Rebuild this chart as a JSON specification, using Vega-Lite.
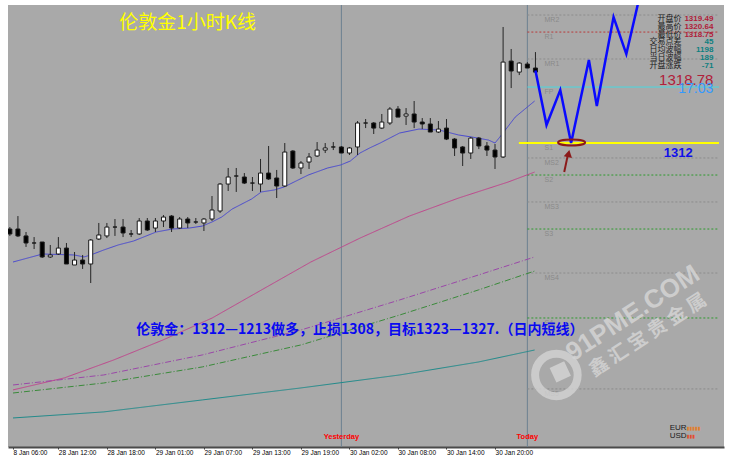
{
  "$schema": "https://vega.github.io/schema/vega-lite/v6.json",
  "width": 716,
  "height": 442,
  "autosize": {"type": "none"},
  "padding": {"left": 8, "top": 5, "right": 8, "bottom": 16},
  "background": "#FFFFFF",
  "config": {"view": {"fill": "#A9A9A9", "stroke": null}, "font": "Liberation Sans"},
  "datasets": {
    "one": [{}],
    "candles": [
      {"i":0,"o":1304.18,"h":1304.36,"l":1303.55,"c":1303.73},
      {"i":1,"o":1304.18,"h":1305.36,"l":1303.45,"c":1303.55},
      {"i":2,"o":1303.55,"h":1303.91,"l":1302.55,"c":1302.91},
      {"i":3,"o":1302.91,"h":1303.45,"l":1302.36,"c":1302.91},
      {"i":4,"o":1303.0,"h":1303.0,"l":1301.55,"c":1301.64},
      {"i":5,"o":1301.64,"h":1302.73,"l":1301.55,"c":1301.82},
      {"i":6,"o":1301.91,"h":1303.45,"l":1301.82,"c":1302.45},
      {"i":7,"o":1302.45,"h":1302.91,"l":1301.0,"c":1301.0},
      {"i":8,"o":1300.91,"h":1302.09,"l":1300.91,"c":1301.36},
      {"i":9,"o":1301.36,"h":1301.82,"l":1300.55,"c":1301.0},
      {"i":10,"o":1301.0,"h":1303.27,"l":1299.27,"c":1303.18},
      {"i":11,"o":1303.27,"h":1304.73,"l":1303.18,"c":1303.64},
      {"i":12,"o":1303.55,"h":1304.73,"l":1303.36,"c":1304.36},
      {"i":13,"o":1304.36,"h":1305.09,"l":1303.55,"c":1304.36},
      {"i":14,"o":1304.36,"h":1305.09,"l":1303.45,"c":1303.82},
      {"i":15,"o":1303.73,"h":1304.09,"l":1303.45,"c":1303.73},
      {"i":16,"o":1303.73,"h":1305.18,"l":1303.64,"c":1304.91},
      {"i":17,"o":1304.91,"h":1305.18,"l":1304.0,"c":1304.09},
      {"i":18,"o":1304.27,"h":1305.18,"l":1303.91,"c":1304.91},
      {"i":19,"o":1304.91,"h":1305.45,"l":1304.36,"c":1305.27},
      {"i":20,"o":1305.36,"h":1305.45,"l":1303.91,"c":1304.27},
      {"i":21,"o":1304.27,"h":1305.27,"l":1304.18,"c":1305.09},
      {"i":22,"o":1305.09,"h":1305.27,"l":1304.27,"c":1304.73},
      {"i":23,"o":1304.82,"h":1305.18,"l":1304.64,"c":1304.82},
      {"i":24,"o":1304.73,"h":1305.18,"l":1304.0,"c":1305.09},
      {"i":25,"o":1305.09,"h":1307.18,"l":1304.91,"c":1305.91},
      {"i":26,"o":1305.82,"h":1308.36,"l":1305.64,"c":1308.27},
      {"i":27,"o":1308.27,"h":1309.73,"l":1307.64,"c":1308.91},
      {"i":28,"o":1309.0,"h":1309.73,"l":1307.55,"c":1309.0},
      {"i":29,"o":1308.91,"h":1309.27,"l":1308.27,"c":1308.36},
      {"i":30,"o":1308.36,"h":1308.91,"l":1307.64,"c":1308.36},
      {"i":31,"o":1308.27,"h":1310.55,"l":1307.55,"c":1309.27},
      {"i":32,"o":1309.27,"h":1311.73,"l":1308.64,"c":1308.73},
      {"i":33,"o":1308.82,"h":1309.55,"l":1307.0,"c":1308.09},
      {"i":34,"o":1308.09,"h":1312.0,"l":1308.0,"c":1311.18},
      {"i":35,"o":1311.27,"h":1311.36,"l":1309.64,"c":1309.73},
      {"i":36,"o":1309.73,"h":1310.36,"l":1309.18,"c":1310.18},
      {"i":37,"o":1310.27,"h":1311.09,"l":1309.64,"c":1310.73},
      {"i":38,"o":1310.82,"h":1312.09,"l":1310.73,"c":1311.36},
      {"i":39,"o":1311.36,"h":1312.0,"l":1311.09,"c":1311.55},
      {"i":40,"o":1311.64,"h":1312.09,"l":1311.36,"c":1311.64},
      {"i":41,"o":1311.64,"h":1311.73,"l":1311.09,"c":1311.09},
      {"i":42,"o":1311.09,"h":1311.64,"l":1310.91,"c":1311.55},
      {"i":43,"o":1311.64,"h":1314.0,"l":1310.91,"c":1313.82},
      {"i":44,"o":1313.82,"h":1314.18,"l":1313.36,"c":1313.82},
      {"i":45,"o":1313.82,"h":1313.91,"l":1312.82,"c":1313.36},
      {"i":46,"o":1313.36,"h":1314.64,"l":1313.27,"c":1313.91},
      {"i":47,"o":1313.82,"h":1315.27,"l":1313.64,"c":1315.09},
      {"i":48,"o":1315.09,"h":1315.36,"l":1314.36,"c":1314.36},
      {"i":49,"o":1314.45,"h":1315.18,"l":1313.64,"c":1314.64},
      {"i":50,"o":1314.64,"h":1315.82,"l":1313.36,"c":1313.91},
      {"i":51,"o":1313.91,"h":1314.27,"l":1313.27,"c":1313.73},
      {"i":52,"o":1313.73,"h":1314.27,"l":1313.0,"c":1313.0},
      {"i":53,"o":1313.0,"h":1314.0,"l":1312.91,"c":1313.27},
      {"i":54,"o":1313.36,"h":1314.18,"l":1312.27,"c":1312.36},
      {"i":55,"o":1312.36,"h":1312.45,"l":1310.82,"c":1311.55},
      {"i":56,"o":1311.64,"h":1311.73,"l":1309.91,"c":1311.09},
      {"i":57,"o":1311.09,"h":1312.55,"l":1310.55,"c":1312.45},
      {"i":58,"o":1312.45,"h":1312.55,"l":1311.45,"c":1311.73},
      {"i":59,"o":1311.73,"h":1312.09,"l":1310.82,"c":1311.36},
      {"i":60,"o":1311.36,"h":1311.91,"l":1309.64,"c":1310.73},
      {"i":61,"o":1310.73,"h":1322.55,"l":1310.64,"c":1319.36},
      {"i":62,"o":1319.45,"h":1320.55,"l":1317.0,"c":1318.55},
      {"i":63,"o":1318.45,"h":1319.36,"l":1318.18,"c":1319.27},
      {"i":64,"o":1319.18,"h":1319.36,"l":1318.82,"c":1318.82},
      {"i":65,"o":1318.82,"h":1320.27,"l":1318.45,"c":1318.45}
    ],
    "ma": [
      {"s":"ma1","i":0.39,"v":1301.18},{"s":"ma1","i":4.05,"v":1301.91},{"s":"ma1","i":7.95,"v":1301.82},{"s":"ma1","i":9.17,"v":1301.64},{"s":"ma1","i":10.0,"v":1301.82},{"s":"ma1","i":11.6,"v":1302.27},{"s":"ma1","i":13.4,"v":1302.73},{"s":"ma1","i":15.3,"v":1303.09},{"s":"ma1","i":18.1,"v":1303.91},{"s":"ma1","i":20.1,"v":1304.18},{"s":"ma1","i":22.2,"v":1304.27},{"s":"ma1","i":23.8,"v":1304.45},{"s":"ma1","i":25.0,"v":1304.82},{"s":"ma1","i":26.2,"v":1305.27},{"s":"ma1","i":27.5,"v":1306.0},{"s":"ma1","i":29.9,"v":1306.91},{"s":"ma1","i":31.1,"v":1307.55},{"s":"ma1","i":32.7,"v":1307.73},{"s":"ma1","i":33.9,"v":1308.0},{"s":"ma1","i":36.9,"v":1309.09},{"s":"ma1","i":39.3,"v":1309.73},{"s":"ma1","i":40.9,"v":1310.0},{"s":"ma1","i":42.1,"v":1310.36},{"s":"ma1","i":43.3,"v":1311.09},{"s":"ma1","i":44.5,"v":1311.55},{"s":"ma1","i":45.8,"v":1312.0},{"s":"ma1","i":48.2,"v":1312.91},{"s":"ma1","i":50.6,"v":1313.27},{"s":"ma1","i":53.1,"v":1313.18},{"s":"ma1","i":55.5,"v":1312.73},{"s":"ma1","i":57.1,"v":1312.55},{"s":"ma1","i":59.2,"v":1312.27},{"s":"ma1","i":60.0,"v":1312.0},{"s":"ma1","i":60.8,"v":1312.73},{"s":"ma1","i":62.5,"v":1314.36},{"s":"ma1","i":64.9,"v":1315.82},
      {"s":"ma2","i":0.39,"v":1289.55},{"s":"ma2","i":6.73,"v":1290.64},{"s":"ma2","i":12.83,"v":1292.27},{"s":"ma2","i":18.93,"v":1294.09},{"s":"ma2","i":25.02,"v":1296.09},{"s":"ma2","i":31.12,"v":1298.64},{"s":"ma2","i":37.22,"v":1301.18},{"s":"ma2","i":43.32,"v":1303.36},{"s":"ma2","i":49.41,"v":1305.36},{"s":"ma2","i":55.51,"v":1307.0},{"s":"ma2","i":61.61,"v":1308.45},{"s":"ma2","i":64.9,"v":1309.36},
      {"s":"ma3","i":0.39,"v":1290.0},{"s":"ma3","i":11.61,"v":1290.91},{"s":"ma3","i":23.8,"v":1292.73},{"s":"ma3","i":36.0,"v":1295.0},{"s":"ma3","i":48.2,"v":1297.73},{"s":"ma3","i":57.95,"v":1300.0},{"s":"ma3","i":64.9,"v":1301.64},
      {"s":"ma4","i":0.39,"v":1289.27},{"s":"ma4","i":11.61,"v":1290.18},{"s":"ma4","i":23.8,"v":1291.64},{"s":"ma4","i":36.0,"v":1293.64},{"s":"ma4","i":48.2,"v":1296.36},{"s":"ma4","i":57.95,"v":1298.64},{"s":"ma4","i":64.9,"v":1300.36},
      {"s":"ma5","i":0.39,"v":1287.0},{"s":"ma5","i":11.61,"v":1287.55},{"s":"ma5","i":23.8,"v":1288.64},{"s":"ma5","i":36.0,"v":1289.73},{"s":"ma5","i":48.2,"v":1290.91},{"s":"ma5","i":57.95,"v":1292.09},{"s":"ma5","i":64.9,"v":1293.18}
    ],
    "pivots": [
      {"name":"MR2","p":1323.64,"kind":"m"},
      {"name":"R1","p":1322.09,"kind":"r"},
      {"name":"MR1","p":1319.64,"kind":"m"},
      {"name":"FP","p":1317.09,"kind":"p"},
      {"name":"S1","p":1312.0,"kind":"s"},
      {"name":"MS2","p":1310.64,"kind":"m"},
      {"name":"S2","p":1309.09,"kind":"s"},
      {"name":"MS3","p":1306.64,"kind":"m"},
      {"name":"S3","p":1304.18,"kind":"s"},
      {"name":"MS4","p":1300.18,"kind":"m"},
      {"name":"S4","p":1296.09,"kind":"s"},
      {"name":"MS5","p":1289.64,"kind":"m"}
    ],
    "proj": [
      {"i":65.0,"p":1318.6},{"i":66.37,"p":1313.64},{"i":68.07,"p":1316.82},{"i":69.41,"p":1312.0},{"i":71.61,"p":1319.55},{"i":72.59,"p":1315.36},{"i":74.66,"p":1323.45},{"i":76.24,"p":1320.09},{"i":78.07,"p":1325.91}
    ],
    "seps": [{"i":41.0,"name":"Yesterday"},{"i":64.0,"name":"Today"}],
    "panel": [
      {"row":1,"label":"开盘价","value":"1319.49","grp":"a"},
      {"row":2,"label":"最高价","value":"1320.64","grp":"a"},
      {"row":3,"label":"最低价","value":"1318.75","grp":"a"},
      {"row":4,"label":"交易点差","value":"45","grp":"b"},
      {"row":5,"label":"日均波幅","value":"1198","grp":"b"},
      {"row":6,"label":"当日波幅","value":"189","grp":"b"},
      {"row":7,"label":"开盘涨跌","value":"-71","grp":"b"}
    ]
  },
  "layer": [
    {
      "layer": [
        {
          "data": {"name": "seps"},
          "mark": {"type": "rule", "color": "#6C8090", "strokeWidth": 1},
          "encoding": {
            "x": {"field": "i", "type": "quantitative",
              "scale": {"domain": [0.39, 87.7], "nice": false, "zero": false},
              "axis": {"values": [0.39, 6, 12, 18, 24, 30, 36, 42, 48, 54, 60],
                "labelExpr": "datum.value < 1 ? '8 Jan 06:00' : ['28 Jan 12:00','28 Jan 18:00','29 Jan 01:00','29 Jan 07:00','29 Jan 13:00','29 Jan 19:00','30 Jan 02:00','30 Jan 08:00','30 Jan 14:00','30 Jan 20:00'][round(datum.value/6)-1]",
                "labelAlign": "left", "labelFontSize": 6.5, "labelFont": "Liberation Sans", "labelColor": "#000000",
                "labelPadding": 0, "tickSize": 2, "tickColor": "#303030", "domainColor": "#4A4A4A", "domainWidth": 2,
                "grid": false, "title": null, "labelFlush": false, "labelOverlap": false, "labelBound": false}
            }
          }
        },
        {
          "data": {"name": "seps"},
          "mark": {"type": "text", "color": "#FF0000", "fontWeight": "bold", "fontSize": 7.5, "font": "Liberation Sans", "align": "center", "baseline": "middle"},
          "encoding": {
            "x": {"field": "i", "type": "quantitative"},
            "y": {"datum": 1285.27, "type": "quantitative", "scale": {"domain": [1284.36, 1324.55], "nice": false, "zero": false}, "axis": null},
            "text": {"field": "name"}
          }
        },
        {
          "data": {"name": "pivots"},
          "transform": [{"filter": "datum.kind != 'p'"}],
          "mark": {"type": "rule", "strokeWidth": 1, "strokeDash": [2, 2]},
          "encoding": {
            "x": {"datum": 64.0},
            "x2": {"datum": 87.7},
            "y": {"field": "p", "type": "quantitative"},
            "stroke": {"field": "kind", "type": "nominal", "legend": null,
              "scale": {"domain": ["m","r","s"], "range": ["#8C8C8C","#B83A3A","#2E9A2E"]}}
          }
        },
        {
          "data": {"name": "pivots"},
          "transform": [{"filter": "datum.kind == 'p'"}],
          "mark": {"type": "rule", "strokeWidth": 1, "color": "#48D8E0"},
          "encoding": {
            "x": {"datum": 64.0},
            "x2": {"datum": 87.7},
            "y": {"field": "p", "type": "quantitative"}
          }
        },
        {
          "data": {"name": "pivots"},
          "mark": {"type": "text", "color": "#8A8A8A", "fontSize": 7, "font": "Liberation Sans", "align": "left", "baseline": "middle", "dy": 5},
          "encoding": {
            "x": {"datum": 66.12},
            "y": {"field": "p", "type": "quantitative"},
            "text": {"field": "name"}
          }
        },
        {
          "data": {"name": "one"},
          "mark": {"type": "rule", "color": "#FFFF00", "strokeWidth": 2},
          "encoding": {"x": {"datum": 62.95}, "x2": {"datum": 87.7}, "y": {"datum": 1312.0}}
        },
        {
          "data": {"name": "ma"},
          "mark": {"type": "line", "strokeWidth": 1, "clip": true},
          "encoding": {
            "x": {"field": "i", "type": "quantitative"},
            "y": {"field": "v", "type": "quantitative"},
            "color": {"field": "s", "type": "nominal", "legend": null,
              "scale": {"domain": ["ma1","ma2","ma3","ma4","ma5"], "range": ["#4848D0","#C0448C","#9A48A8","#3A8A3A","#1E8A8A"]}},
            "strokeDash": {"field": "s", "type": "nominal", "legend": null,
              "scale": {"domain": ["ma1","ma2","ma3","ma4","ma5"], "range": [[1,0],[1,0],[6,2,1,2],[6,2,1,2],[1,0]]}}
          }
        },
        {
          "data": {"name": "candles"},
          "mark": {"type": "rule", "color": "#262626", "strokeWidth": 1, "clip": true},
          "encoding": {
            "x": {"field": "i", "type": "quantitative"},
            "y": {"field": "l", "type": "quantitative"},
            "y2": {"field": "h"}
          }
        },
        {
          "data": {"name": "candles"},
          "mark": {"type": "bar", "width": 4, "stroke": "#1A1A1A", "strokeWidth": 1, "orient": "vertical", "clip": true},
          "encoding": {
            "x": {"field": "i", "type": "quantitative"},
            "y": {"field": "o", "type": "quantitative"},
            "y2": {"field": "c"},
            "fill": {"condition": {"test": "datum.c >= datum.o", "value": "#FFFFFF"}, "value": "#000000"}
          }
        },
        {
          "data": {"name": "proj"},
          "mark": {"type": "line", "color": "#0A0AFF", "strokeWidth": 2.5, "clip": true},
          "encoding": {
            "x": {"field": "i", "type": "quantitative"},
            "y": {"field": "p", "type": "quantitative"}
          }
        },
        {
          "data": {"name": "one"},
          "mark": {"type": "point", "shape": "M -1 0 A 1 0.22 0 1 0 1 0 A 1 0.22 0 1 0 -1 0 Z", "size": 729, "filled": false, "stroke": "#8B1A1A", "strokeWidth": 2, "opacity": 1},
          "encoding": {"x": {"datum": 69.47}, "y": {"datum": 1312.05}}
        },
        {
          "data": {"name": "one"},
          "mark": {"type": "rule", "color": "#8B1A1A", "strokeWidth": 2},
          "encoding": {"x": {"datum": 68.56}, "y": {"datum": 1309.36}, "x2": {"datum": 69.0}, "y2": {"datum": 1310.9}}
        },
        {
          "data": {"name": "one"},
          "mark": {"type": "point", "shape": "triangle-up", "size": 70, "filled": true, "color": "#8B1A1A", "opacity": 1, "angle": 12},
          "encoding": {"x": {"datum": 69.1}, "y": {"datum": 1311.05}}
        },
        {
          "data": {"name": "one"},
          "mark": {"type": "text", "text": "伦敦金1小时K线", "font": "Noto Sans CJK SC", "fontSize": 19, "color": "#FFFF00", "align": "center", "baseline": "middle"},
          "encoding": {"x": {"datum": 21.98}, "y": {"datum": 1322.91}}
        },
        {
          "data": {"name": "one"},
          "mark": {"type": "text", "text": "伦敦金：1312—1213做多，止损1308，目标1323—1327.（日内短线）", "font": "Noto Sans CJK SC", "fontWeight": "bold", "fontSize": 14, "color": "#0A0AF0", "align": "left", "baseline": "middle"},
          "encoding": {"x": {"datum": 15.63}, "y": {"datum": 1295.0}}
        },
        {
          "data": {"name": "one"},
          "mark": {"type": "text", "text": "1312", "font": "Liberation Sans", "fontWeight": "bold", "fontSize": 13, "color": "#1010E8", "align": "center", "baseline": "middle"},
          "encoding": {"x": {"datum": 82.65}, "y": {"datum": 1311.09}}
        },
        {
          "data": {"name": "one"},
          "mark": {"type": "text", "text": "1318.78", "font": "Liberation Sans", "fontSize": 15, "color": "#B0203A", "align": "right", "baseline": "middle"},
          "encoding": {"x": {"datum": 87.0}, "y": {"datum": 1317.73}}
        },
        {
          "data": {"name": "one"},
          "mark": {"type": "text", "text": "17:03", "font": "Liberation Sans", "fontSize": 14, "color": "#3399FF", "align": "right", "baseline": "middle"},
          "encoding": {"x": {"datum": 87.0}, "y": {"datum": 1316.91}}
        },
        {
          "data": {"name": "one"},
          "mark": {"type": "point", "shape": "circle", "size": 1810, "filled": false, "stroke": "#D4D4D4", "strokeWidth": 8, "opacity": 0.8},
          "encoding": {"x": {"datum": 67.59}, "y": {"datum": 1290.91}}
        },
        {
          "data": {"name": "one"},
          "mark": {"type": "point", "shape": "square", "size": 256, "filled": true, "color": "#D4D4D4", "opacity": 0.85, "angle": -25},
          "encoding": {"x": {"datum": 68.07}, "y": {"datum": 1291.2}}
        },
        {
          "data": {"name": "one"},
          "mark": {"type": "text", "text": "91PME.COM", "font": "Liberation Sans", "fontWeight": "bold", "fontSize": 26, "color": "#D4D4D4", "opacity": 0.85, "angle": -33, "align": "center", "baseline": "alphabetic"},
          "encoding": {"x": {"datum": 77.58}, "y": {"datum": 1295.91}}
        },
        {
          "data": {"name": "one"},
          "mark": {"type": "text", "text": "鑫 汇 宝 贵 金 属", "font": "Noto Sans CJK SC", "fontWeight": "bold", "fontSize": 19, "color": "#D4D4D4", "opacity": 0.85, "angle": -33, "align": "center", "baseline": "alphabetic"},
          "encoding": {"x": {"datum": 79.29}, "y": {"datum": 1294.09}}
        },
        {
          "data": {"name": "one"},
          "mark": {"type": "text", "text": "EUR", "font": "Liberation Sans", "fontSize": 8, "color": "#1A1A1A", "align": "left", "baseline": "middle"},
          "encoding": {"x": {"datum": 81.61}, "y": {"datum": 1286.09}}
        },
        {
          "data": {"name": "one"},
          "mark": {"type": "text", "text": "USD", "font": "Liberation Sans", "fontSize": 8, "color": "#1A1A1A", "align": "left", "baseline": "middle"},
          "encoding": {"x": {"datum": 81.61}, "y": {"datum": 1285.36}}
        },
        {
          "data": {"name": "one"},
          "mark": {"type": "text", "text": "▮▮▮▮▮", "font": "DejaVu Sans", "fontSize": 5, "color": "#E08030", "align": "left", "baseline": "middle"},
          "encoding": {"x": {"datum": 83.7}, "y": {"datum": 1286.09}}
        },
        {
          "data": {"name": "one"},
          "mark": {"type": "text", "text": "▮▮▮", "font": "DejaVu Sans", "fontSize": 5, "color": "#E05030", "align": "left", "baseline": "middle"},
          "encoding": {"x": {"datum": 83.7}, "y": {"datum": 1285.36}}
        }
      ]
    },
    {
      "data": {"name": "panel"},
      "layer": [
        {
          "mark": {"type": "text", "font": "Noto Sans CJK SC", "fontSize": 8, "color": "#1A1A1A", "align": "right", "baseline": "middle"},
          "encoding": {
            "x": {"datum": 83.07},
            "y": {"field": "row", "type": "ordinal", "axis": null, "scale": {"domain": [1,2,3,4,5,6,7], "range": [14, 60.5], "padding": 0}},
            "text": {"field": "label"}
          }
        },
        {
          "mark": {"type": "text", "font": "Liberation Sans", "fontWeight": "bold", "fontSize": 8, "align": "right", "baseline": "middle"},
          "encoding": {
            "x": {"datum": 87.0},
            "y": {"field": "row", "type": "ordinal", "axis": null},
            "text": {"field": "value"},
            "color": {"field": "grp", "type": "nominal", "legend": null, "scale": {"domain": ["a","b"], "range": ["#B0203A","#0E8080"]}}
          }
        }
      ]
    }
  ],
  "resolve": {"scale": {"y": "independent", "color": "independent"}}
}
